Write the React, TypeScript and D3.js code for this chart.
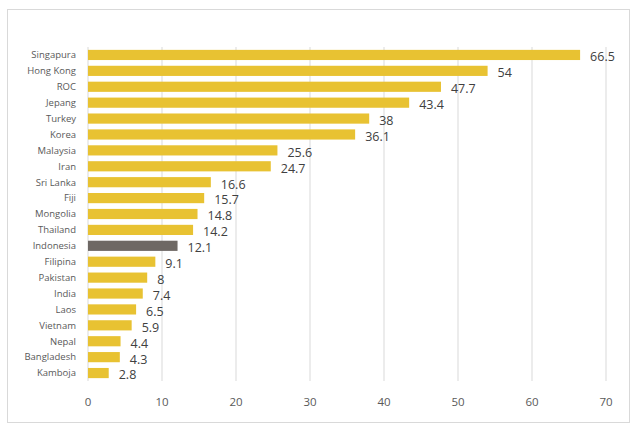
import React from "react";
import * as d3 from "d3";

const categories = ["Singapura","Hong Kong","ROC","Jepang","Turkey","Korea","Malaysia","Iran","Sri Lanka","Fiji","Mongolia","Thailand","Indonesia","Filipina","Pakistan","India","Laos","Vietnam","Nepal","Bangladesh","Kamboja"];
const values = [66.5,54,47.7,43.4,38,36.1,25.6,24.7,16.6,15.7,14.8,14.2,12.1,9.1,8,7.4,6.5,5.9,4.4,4.3,2.8];
const xTicks = [0,10,20,30,40,50,60,70];
const highlight = "Indonesia";

const W = 640, H = 436;
const left = 88, right = 606, top = 47, bottom = 381;

export default function App() {
  const x = d3.scaleLinear().domain([0, 70]).range([left, right]);
  const y = d3.scaleBand<string>().domain(categories).range([top, bottom]).paddingInner(0.36).paddingOuter(0.18);
  const font = "'Open Sans', 'Noto Sans', sans-serif";
  return (
    <svg width={W} height={H} style={{ position: "absolute", left: 0, top: 0 }}>
      <rect x={0} y={0} width={W} height={H} fill="#fff" />
      <rect x={7.5} y={9.5} width={622} height={413} fill="#fff" stroke="#d9d9d9" strokeWidth={1} />
      {xTicks.map(t => (
        <g key={t}>
          <line x1={x(t)} x2={x(t)} y1={top} y2={bottom} stroke="#d9d9d9" strokeWidth={1} />
          <text x={x(t)} y={406} textAnchor="middle" fontFamily={font} fontSize={11.5} fill="#595959">{t}</text>
        </g>
      ))}
      {categories.map((c, i) => {
        const yy = y(c)!;
        const bh = y.bandwidth();
        return (
          <g key={c}>
            <rect x={x(0)} y={yy} width={x(values[i]) - x(0)} height={bh} fill={c === highlight ? "#6e6864" : "#e8c232"} />
            <text x={76} y={yy + bh / 2} dy="0.35em" textAnchor="end" fontFamily={font} fontSize={9.5} fill="#595959">{c}</text>
            <text x={x(values[i]) + 10} y={yy + bh / 2 + 2} dy="0.35em" textAnchor="start" fontFamily={font} fontSize={12.5} fill="#404040">{values[i]}</text>
          </g>
        );
      })}
    </svg>
  );
}
